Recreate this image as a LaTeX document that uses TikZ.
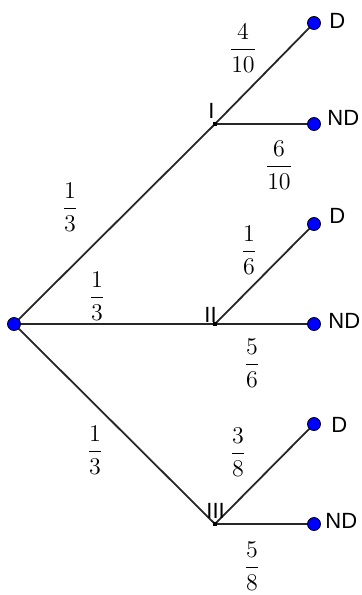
\documentclass[tikz,border=0pt]{standalone}
\usepackage{fontspec}
\newfontfamily\tagfont{Liberation Sans}
\usetikzlibrary{positioning,backgrounds}
\tikzset{
  leaf/.style={circle,draw=black,line width=0.4pt,fill=blue,inner sep=0pt,minimum size=6.5pt},
  fork/.style={rectangle,fill=black,inner sep=0pt,minimum size=2pt},
  branch/.style={line width=0.9pt,black!85},
  prob/.style={inner sep=0pt,font=\fontsize{12}{14}\selectfont},
  tag/.style={inner sep=0pt,anchor=base west,font=\tagfont\fontsize{11}{13}\selectfont}
}
\begin{document}
\begin{tikzpicture}[x=0.5pt,y=-0.5pt]
\useasboundingbox (0,0) rectangle (361,595);
% points
\node[leaf] (r) at (14,324) {};
\node[fork] (i) at (215,124) {};
\node[fork] (ii) at (215,324) {};
\node[fork] (iii) at (215,524) {};
\node[leaf] (d1) at (314,23) {};
\node[leaf] (nd1) at (314,124) {};
\node[leaf] (d2) at (314,224) {};
\node[leaf] (nd2) at (314,324) {};
\node[leaf] (d3) at (314,424) {};
\node[leaf] (nd3) at (314,524) {};
% branches
\begin{pgfonlayer}{background}
\draw[branch] (r.center) -- (i.center);
\draw[branch] (r.center) -- (ii.center);
\draw[branch] (r.center) -- (iii.center);
\draw[branch] (i.center) -- (d1.center);
\draw[branch] (i.center) -- (nd1.center);
\draw[branch] (ii.center) -- (d2.center);
\draw[branch] (ii.center) -- (nd2.center);
\draw[branch] (iii.center) -- (d3.center);
\draw[branch] (iii.center) -- (nd3.center);
\end{pgfonlayer}
% names
\node[tag] (ti) at (208,118) {I};
\node[tag] (tii) at (204,322) {II};
\node[tag] (tiii) at (206,518) {III};
\node[tag] (td1) at (329,28) {D};
\node[tag] (tnd1) at (327,125) {ND};
\node[tag] (td2) at (329,223) {D};
\node[tag] (tnd2) at (328,328) {ND};
\node[tag] (td3) at (331,432) {D};
\node[tag] (tnd3) at (325,528) {ND};
% probabilities
\node[prob] (p1) at (70,207) {$\displaystyle\frac{1}{3}$};
\node[prob] (p2) at (97,296) {$\displaystyle\frac{1}{3}$};
\node[prob] (p3) at (95,450) {$\displaystyle\frac{1}{3}$};
\node[prob] (p4) at (243,48) {$\displaystyle\frac{4}{10}$};
\node[prob] (p5) at (279,165) {$\displaystyle\frac{6}{10}$};
\node[prob] (p6) at (249,250) {$\displaystyle\frac{1}{6}$};
\node[prob] (p7) at (252,363) {$\displaystyle\frac{5}{6}$};
\node[prob] (p8) at (238,452) {$\displaystyle\frac{3}{8}$};
\node[prob] (p9) at (252,566) {$\displaystyle\frac{5}{8}$};
\end{tikzpicture}
\end{document}
